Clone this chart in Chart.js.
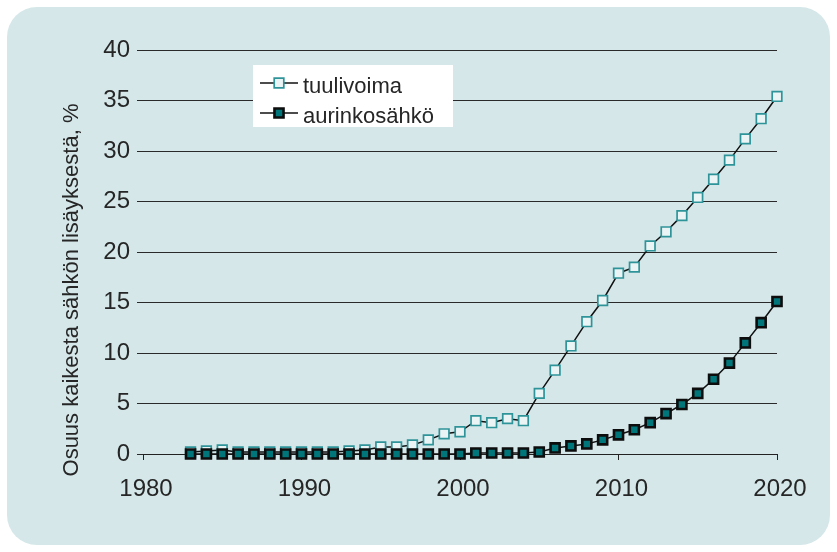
<!DOCTYPE html>
<html><head><meta charset="utf-8">
<script src="https://cdn.jsdelivr.net/npm/chart.js@4/dist/chart.umd.min.js"></script>
<style>html,body{margin:0;padding:0;background:#fff;overflow:hidden}#wrap{width:837px;height:552px;position:relative}</style>
</head><body><div id="wrap"><canvas id="c" width="837" height="552"></canvas></div>
<script>
const years = [1983,1984,1985,1986,1987,1988,1989,1990,1991,1992,1993,1994,1995,1996,1997,1998,1999,2000,2001,2002,2003,2004,2005,2006,2007,2008,2009,2010,2011,2012,2013,2014,2015,2016,2017,2018,2019,2020];
const tuulivoima = [0.2,0.3,0.4,0.2,0.2,0.2,0.2,0.2,0.2,0.2,0.3,0.4,0.7,0.7,0.9,1.4,2.0,2.2,3.3,3.1,3.5,3.3,6.0,8.3,10.7,13.1,15.2,17.9,18.5,20.6,22.0,23.6,25.4,27.2,29.1,31.2,33.2,35.4];
const aurinkosahko = [0,0,0,0,0,0,0,0,0,0,0,0,0,0,0,0,0,0,0.1,0.1,0.1,0.1,0.2,0.6,0.8,1.0,1.4,1.9,2.4,3.1,4.0,4.9,6.0,7.4,9.0,11.0,13.0,15.1];
const seriesLabels = ['tuulivoima','aurinkosähkö'];
const xTicks = [1980,1990,2000,2010,2020];
const yTicks = [0,5,10,15,20,25,30,35,40];
const yTitle = 'Osuus kaikesta sähkön lisäyksestä, %';

const FONT = "'Liberation Sans', Arial, Helvetica, sans-serif";
const TEXT = '#262626';

const panelPlugin = {
  id: 'panel',
  beforeDraw(chart) {
    const ctx = chart.ctx;
    ctx.save();
    ctx.fillStyle = '#ffffff';
    ctx.fillRect(0, 0, chart.width, chart.height);
    ctx.fillStyle = '#d5e7e9';
    ctx.beginPath();
    ctx.roundRect(7, 7, 823, 538, 30);
    ctx.fill();
    ctx.restore();
  }
};

const titlePlugin = {
  id: 'ytitle',
  afterDraw(chart) {
    const ctx = chart.ctx;
    ctx.save();
    ctx.translate(77.5, 290);
    ctx.rotate(-Math.PI / 2);
    ctx.font = '22px ' + FONT;
    ctx.fillStyle = TEXT;
    ctx.textAlign = 'center';
    ctx.textBaseline = 'alphabetic';
    ctx.fillText(yTitle, 0, 0);
    ctx.restore();
  }
};

const legendPlugin = {
  id: 'customLegend',
  afterDraw(chart) {
    const ctx = chart.ctx;
    ctx.save();
    ctx.fillStyle = '#ffffff';
    ctx.fillRect(253, 65, 200, 62);
    const rows = [83, 113];
    chart.data.datasets.forEach((ds, i) => {
      const cy = rows[i];
      ctx.strokeStyle = ds.borderColor;
      ctx.lineWidth = 1.5;
      ctx.beginPath();
      ctx.moveTo(260, cy);
      ctx.lineTo(298, cy);
      ctx.stroke();
      ctx.fillStyle = ds.pointBackgroundColor;
      ctx.strokeStyle = ds.pointBorderColor;
      ctx.lineWidth = ds.pointBorderWidth;
      const s = ds.pointRadius * Math.SQRT1_2;
      ctx.beginPath();
      ctx.rect(279 - s, cy - s, 2 * s, 2 * s);
      ctx.fill();
      ctx.stroke();
      ctx.fillStyle = TEXT;
      ctx.font = '22px ' + FONT;
      ctx.textAlign = 'left';
      ctx.textBaseline = 'alphabetic';
      ctx.fillText(ds.label, 303, cy + 10);
    });
    ctx.restore();
  }
};

new Chart(document.getElementById('c'), {
  type: 'line',
  data: {
    datasets: [
      {
        label: seriesLabels[0],
        data: years.map((y, i) => ({x: y, y: tuulivoima[i]})),
        borderColor: '#111111',
        borderWidth: 1.5,
        pointStyle: 'rect',
        pointRadius: 6.8,
        pointBackgroundColor: '#eaf4f5',
        pointBorderColor: '#2f9499',
        pointBorderWidth: 1.7,
        order: 1
      },
      {
        label: seriesLabels[1],
        data: years.map((y, i) => ({x: y, y: aurinkosahko[i]})),
        borderColor: '#111111',
        borderWidth: 1.5,
        pointStyle: 'rect',
        pointRadius: 6.4,
        pointBackgroundColor: '#00767b',
        pointBorderColor: '#0d0d0d',
        pointBorderWidth: 2.6,
        order: 0
      }
    ]
  },
  options: {
    responsive: false,
    devicePixelRatio: 1,
    animation: false,
    events: [],
    clip: false,
    layout: { padding: { left: 0, top: 50, right: 60, bottom: 38 } },
    plugins: { legend: { display: false }, tooltip: { enabled: false } },
    scales: {
      x: {
        type: 'linear',
        min: 1980, max: 2020,
        afterBuildTicks(scale) { scale.ticks = xTicks.map(v => ({value: v})); },
        afterFit(scale) { scale.height = 60; },
        ticks: {
          callback: v => String(v),
          font: { family: FONT, size: 24 },
          color: TEXT,
          padding: 15,
          labelOffset: 3,
          maxRotation: 0
        },
        grid: { drawOnChartArea: false, drawTicks: true, tickLength: 6, color: '#222', lineWidth: 1 },
        border: { display: true, color: '#222', width: 1 }
      },
      y: {
        min: 0, max: 40,
        afterBuildTicks(scale) { scale.ticks = yTicks.map(v => ({value: v})); },
        afterFit(scale) { scale.width = 143; },
        ticks: {
          callback: v => String(v),
          font: { family: FONT, size: 24 },
          color: TEXT,
          padding: 7
        },
        grid: { color: '#2a2a2a', lineWidth: 1, tickLength: 6, drawTicks: true },
        border: { display: false }
      }
    }
  },
  plugins: [panelPlugin, titlePlugin, legendPlugin]
});
</script>
</body></html>
